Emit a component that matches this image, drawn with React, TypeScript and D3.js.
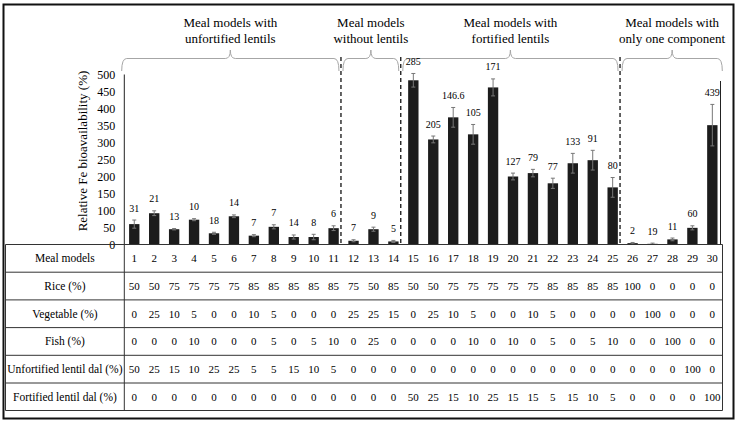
import React from "react";
import * as d3 from "d3";

const models = d3.range(1, 31).map(String);
const bioValues = [60, 92, 45, 73, 33, 83, 26, 52, 22, 22, 48, 11, 45, 9, 483, 309, 374, 324, 462, 200, 210, 180, 239, 248, 168, 4, 2, 15, 49, 351];
const bioErrors = [12, 7, 2, 3, 3, 4, 3, 6, 6, 8, 7, 3, 6, 3, 20, 10, 29, 29, 25, 10, 11, 15, 29, 29, 29, 2, 2, 4, 6, 61];
const barLabels = ["31", "21", "13", "10", "18", "14", "7", "7", "14", "8", "6", "7", "9", "5", "285", "205", "146.6", "105", "171", "127", "79", "77", "133", "91", "80", "2", "19", "11", "60", "439"];
const yTicks = [0, 50, 100, 150, 200, 250, 300, 350, 400, 450, 500];

const rice = [50, 50, 75, 75, 75, 75, 85, 85, 85, 85, 85, 75, 50, 85, 50, 50, 75, 75, 75, 75, 75, 85, 85, 85, 85, 100, 0, 0, 0, 0];
const vegetable = [0, 25, 10, 5, 0, 0, 10, 5, 0, 0, 0, 25, 25, 15, 0, 25, 10, 5, 0, 0, 10, 5, 0, 0, 0, 0, 100, 0, 0, 0];
const fish = [0, 0, 0, 10, 0, 0, 0, 5, 0, 5, 10, 0, 25, 0, 0, 0, 0, 10, 0, 10, 0, 5, 0, 5, 10, 0, 0, 100, 0, 0];
const unfortified = [50, 25, 15, 10, 25, 25, 5, 5, 15, 10, 5, 0, 0, 0, 0, 0, 0, 0, 0, 0, 0, 0, 0, 0, 0, 0, 0, 0, 100, 0];
const fortified = [0, 0, 0, 0, 0, 0, 0, 0, 0, 0, 0, 0, 0, 0, 50, 25, 15, 10, 25, 15, 15, 5, 15, 10, 5, 0, 0, 0, 0, 100];

const rowLabels = ["Meal models", "Rice (%)", "Vegetable (%)", "Fish (%)", "Unfortified lentil dal (%)", "Fortified lentil dal (%)"];
const groups = [
  { first: 1, last: 11, lines: ["Meal models with", "unfortified lentils"] },
  { first: 12, last: 14, lines: ["Meal models", "without lentils"] },
  { first: 15, last: 25, lines: ["Meal models with", "fortified lentils"] },
  { first: 26, last: 30, lines: ["Meal models with", "only one component"] },
];

const W = 737;
const H = 423;
const FONT = "Liberation Serif";

export default function App() {
  const x = d3.scaleBand<string>().domain(models).range([124.3, 722.3]).paddingInner(0.48).paddingOuter(0.24);
  const y = d3.scaleLinear().domain([0, 500]).range([244.5, 74.5]);
  const step = x.step();
  const bw = x.bandwidth();
  const axisX = 124.3;

  const edge = (m: number) => (x(String(m)) as number) - (step - bw) / 2 - 2.6;
  const groupEdges = [edge(1), edge(12), edge(15), edge(26), 722.3];

  const rows = [models, rice, vegetable, fish, unfortified, fortified];
  const rowTops = [244.5, 272.2, 299.9, 327.6, 355.3, 383, 410.5];
  const tableLeft = 5.5;
  const tableRight = 722.5;

  const brace = (x1: number, x2: number) => {
    const xm = (x1 + x2) / 2;
    const yEnd = 71, yLine = 58.5, yTip = 50, q = 5;
    return `M${x1},${yEnd} Q${x1},${yLine} ${x1 + q},${yLine} L${xm - q},${yLine} Q${xm},${yLine} ${xm},${yTip} Q${xm},${yLine} ${xm + q},${yLine} L${x2 - q},${yLine} Q${x2},${yLine} ${x2},${yEnd}`;
  };

  const ts = { fontFamily: FONT } as React.CSSProperties;

  return (
    <svg width={W} height={H} style={{ position: "absolute", left: 0, top: 0, background: "#fff", fontFamily: FONT }}>
      <rect x={0} y={0} width={W} height={H} fill="#fff" />
      <rect x={3.5} y={4.5} width={730} height={414} fill="none" stroke="#111" strokeWidth={2} />

      {groups.map((g, i) => {
        const x1 = i === 0 ? groupEdges[0] : groupEdges[i] + 2;
        const x2 = i === groups.length - 1 ? groupEdges[i + 1] : groupEdges[i + 1] - 2;
        const xm = (x1 + x2) / 2;
        return (
          <g key={i}>
            <path d={brace(x1, x2)} fill="none" stroke="#a6a6a6" strokeWidth={1} />
            {g.lines.map((t, j) => (
              <text key={j} x={xm} y={27 + j * 15.6} textAnchor="middle" fontSize={13} fill="#000" style={ts}>{t}</text>
            ))}
          </g>
        );
      })}

      {[12, 15, 26].map((m) => (
        <line key={m} x1={edge(m)} x2={edge(m)} y1={57} y2={244.5} stroke="#111" strokeWidth={1.3} strokeDasharray="4,3" />
      ))}

      <line x1={axisX} x2={axisX} y1={y(500)} y2={y(0)} stroke="#222" strokeWidth={1} />
      <line x1={720.5} x2={720.5} y1={81} y2={y(0)} stroke="#222" strokeWidth={1} />
      {yTicks.map((t) => (
        <text key={t} x={axisX - 9} y={y(t) + 4} textAnchor="end" fontSize={12} fill="#000" style={ts}>{t}</text>
      ))}
      <text transform={`translate(87,151) rotate(-90)`} textAnchor="middle" fontSize={13} fill="#000" style={ts}>Relative Fe bioavailability (%)</text>

      {models.map((m, i) => {
        const v = bioValues[i];
        const e = bioErrors[i];
        const bx = x(m) as number;
        const cx = bx + bw / 2;
        return (
          <g key={m}>
            <rect x={bx} y={y(v)} width={bw} height={y(0) - y(v)} fill="#1c1c1c" />
            <line x1={cx} x2={cx} y1={y(v + e)} y2={y(Math.max(0, v - e))} stroke="#777" strokeWidth={1} />
            <line x1={cx - 2} x2={cx + 2} y1={y(v + e)} y2={y(v + e)} stroke="#777" strokeWidth={1} />
            <line x1={cx - 2} x2={cx + 2} y1={y(Math.max(0, v - e))} y2={y(Math.max(0, v - e))} stroke="#777" strokeWidth={1} />
            <text x={cx} y={y(v + e) - 8.5} textAnchor="middle" fontSize={10} fill="#000" style={ts}>{barLabels[i]}</text>
          </g>
        );
      })}

      {rowTops.map((ty, i) => (
        <line key={i} x1={tableLeft} x2={tableRight} y1={ty} y2={ty} stroke="#333" strokeWidth={1} />
      ))}
      <line x1={tableLeft} x2={tableLeft} y1={rowTops[0]} y2={rowTops[6]} stroke="#333" strokeWidth={1} />
      <line x1={axisX} x2={axisX} y1={rowTops[0]} y2={rowTops[6]} stroke="#333" strokeWidth={1} />
      <line x1={tableRight} x2={tableRight} y1={rowTops[0]} y2={rowTops[6]} stroke="#333" strokeWidth={1} />
      {rows.map((r, ri) => {
        const cy = (rowTops[ri] + rowTops[ri + 1]) / 2 + 4;
        return (
          <g key={ri}>
            <text x={(tableLeft + axisX) / 2} y={cy} textAnchor="middle" fontSize={11.5} fill="#000" style={ts}>{rowLabels[ri]}</text>
            {r.map((v, i) => (
              <text key={i} x={(x(models[i]) as number) + bw / 2} y={cy} textAnchor="middle" fontSize={11} fill="#000" style={ts}>{String(v)}</text>
            ))}
          </g>
        );
      })}
    </svg>
  );
}
